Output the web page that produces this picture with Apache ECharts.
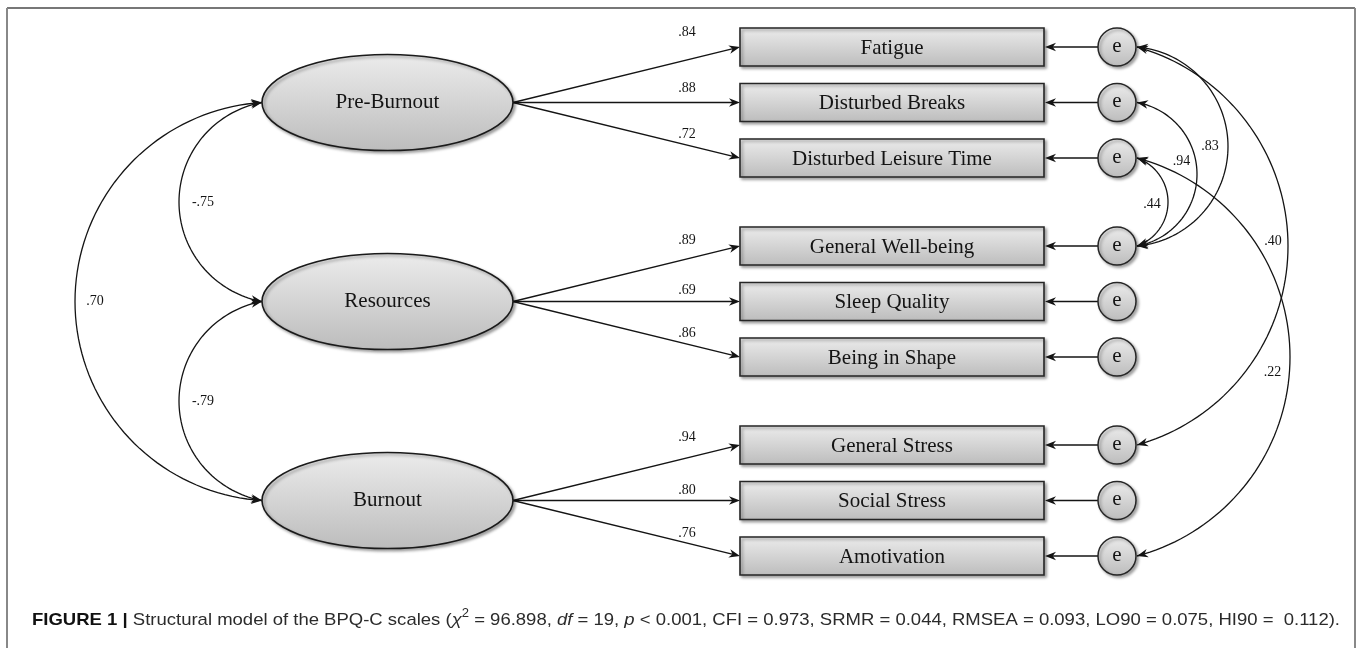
<!DOCTYPE html>
<html>
<head>
<meta charset="utf-8">
<title>BPQ-C structural model</title>
<script src="https://cdn.jsdelivr.net/npm/echarts@6/dist/echarts.min.js"></script>
<style>
  html, body { margin: 0; padding: 0; background: #fff; }
  #chart { width: 1358px; height: 648px; }
</style>
</head>
<body>
<div id="chart"></div>
<script>
// model content
const factors = ['Pre-Burnout', 'Resources', 'Burnout']
const indicators = ['Fatigue', 'Disturbed Breaks', 'Disturbed Leisure Time', 'General Well-being', 'Sleep Quality', 'Being in Shape', 'General Stress', 'Social Stress', 'Amotivation']
const indicatorFactor = [0, 0, 0, 1, 1, 1, 2, 2, 2]
const loadings = [0.84, 0.88, 0.72, 0.89, 0.69, 0.86, 0.94, 0.80, 0.76]
// [from factor, to factor, r]
const factorCorr = [[0, 1, -0.75], [1, 2, -0.79], [0, 2, 0.70]]
// [from indicator, to indicator, r] between error terms
const errorCorr = [[0, 3, 0.83], [1, 3, 0.94], [2, 3, 0.44], [0, 6, 0.40], [2, 8, 0.22]]

// layout (drawing units = axis units)
const ROW0 = 47, ROW_STEP = 55.5, GROUP_STEP = 199
const ELL_X = 387.5, ELL_RX = 125.5, ELL_RY = 48
const BOX_X0 = 740, BOX_X1 = 1044, BOX_H = 38
const ERR_X = 1117, ERR_R = 19
const factorBend = [-83, -83, -187]
const errorBend = [91, 60, 31, 151, 153]
const factorLabelAt = [[0.5, 24], [0.5, 24], [0.5, 20]]
const errorLabelAt = [[0.5, 18], [0.42, 14], [0.53, 16], [0.49, 15], [0.53, 17]]
// how far above its row each loading label sits
const loadLabelAbove = [15, 14.5, 24, 6, 11.5, 24, 8, 10.5, 23]
const LOAD_LABEL_BACK = 53

const INK = '#141414'
const SERIF = '"Liberation Serif", "DejaVu Serif", serif'
const NODE_FONT = '21px ' + SERIF
const COEF_FONT = '14px ' + SERIF

const rowY = (i) => ROW0 + Math.floor(i / 3) * GROUP_STEP + (i % 3) * ROW_STEP
const factorY = (g) => rowY(g * 3 + 1)
const fmt = (v) => (v < 0 ? '-' : '') + Math.abs(v).toFixed(2).slice(1)

const greyFill = () =>
  new echarts.graphic.LinearGradient(0, 0, 0, 1, [
    { offset: 0, color: '#ececec' },
    { offset: 1, color: '#bcbcbc' }
  ])
const nodeShadow = { shadowBlur: 3, shadowOffsetX: 2, shadowOffsetY: 2, shadowColor: 'rgba(0,0,0,0.35)' }

function arrowHead(tip, u) {
  const L = 11, W = 4.3
  const n = [-u[1], u[0]]
  const bx = tip[0] - u[0] * L, by = tip[1] - u[1] * L
  const mx = tip[0] - u[0] * L * 0.7, my = tip[1] - u[1] * L * 0.7
  return {
    type: 'polygon',
    shape: { points: [[tip[0], tip[1]], [bx + n[0] * W, by + n[1] * W], [mx, my], [bx - n[0] * W, by - n[1] * W]] },
    style: { fill: INK }
  }
}

const normAng = (a) => {
  while (a > Math.PI) a -= 2 * Math.PI
  while (a <= -Math.PI) a += 2 * Math.PI
  return a
}

// circular arc through p0, p1 with signed sagitta (pixels)
function arcGeom(p0, p1, bend) {
  const dx = p1[0] - p0[0], dy = p1[1] - p0[1]
  const L = Math.hypot(dx, dy)
  const u = [dx / L, dy / L]
  const nrm = [u[1], -u[0]]
  const s = Math.abs(bend), sg = Math.sign(bend)
  const R = (L * L / 4 + s * s) / (2 * s)
  const M = [(p0[0] + p1[0]) / 2, (p0[1] + p1[1]) / 2]
  const A = [M[0] + nrm[0] * bend, M[1] + nrm[1] * bend]
  const C = [M[0] + nrm[0] * sg * (s - R), M[1] + nrm[1] * sg * (s - R)]
  const a0 = Math.atan2(p0[1] - C[1], p0[0] - C[0])
  const aA = Math.atan2(A[1] - C[1], A[0] - C[0])
  const a1 = Math.atan2(p1[1] - C[1], p1[0] - C[0])
  const total = normAng(aA - a0) + normAng(a1 - aA)
  const at = (t) => {
    const a = a0 + total * t
    return [C[0] + R * Math.cos(a), C[1] + R * Math.sin(a)]
  }
  const tangent = (t) => {
    const a = a0 + total * t, k = Math.sign(total)
    return [-Math.sin(a) * k, Math.cos(a) * k]
  }
  return { C, R, at, tangent }
}

function renderCorr(bends, labelAt) {
  return function (params, api) {
    const i = params.dataIndex
    const p0 = api.coord([api.value(0), api.value(1)])
    const p1 = api.coord([api.value(2), api.value(3)])
    const bend = api.size([bends[i], 0])[0] * Math.sign(bends[i])
    const g = arcGeom(p0, p1, bend)
    const pts = []
    for (let k = 0; k <= 80; k++) pts.push(g.at(k / 80))
    const t0 = g.tangent(0), t1 = g.tangent(1)
    const lp = g.at(labelAt[i][0])
    const toC = [g.C[0] - lp[0], g.C[1] - lp[1]]
    const d = Math.hypot(toC[0], toC[1])
    const lx = lp[0] + toC[0] / d * labelAt[i][1]
    const ly = lp[1] + toC[1] / d * labelAt[i][1]
    return {
      type: 'group',
      children: [
        { type: 'polyline', shape: { points: pts }, style: { stroke: INK, lineWidth: 1.3, fill: null } },
        arrowHead(p0, [-t0[0], -t0[1]]),
        arrowHead(p1, t1),
        {
          type: 'text', x: lx, y: ly,
          style: { text: fmt(api.value(4)), font: COEF_FONT, fill: INK, align: 'center', verticalAlign: 'middle' }
        }
      ]
    }
  }
}

function renderLoading(params, api) {
  const i = params.dataIndex
  const p0 = api.coord([api.value(0), api.value(1)])
  const p1 = api.coord([api.value(2), api.value(3)])
  const dx = p1[0] - p0[0], dy = p1[1] - p0[1], len = Math.hypot(dx, dy)
  const u = [dx / len, dy / len]
  const lab = api.coord([api.value(2) - LOAD_LABEL_BACK, api.value(3) - loadLabelAbove[i]])
  return {
    type: 'group',
    children: [
      { type: 'line', shape: { x1: p0[0], y1: p0[1], x2: p1[0] - u[0] * 6, y2: p1[1] - u[1] * 6 }, style: { stroke: INK, lineWidth: 1.3 } },
      arrowHead(p1, u),
      {
        type: 'text', x: lab[0], y: lab[1],
        style: { text: fmt(api.value(4)), font: COEF_FONT, fill: INK, align: 'center', verticalAlign: 'middle' }
      }
    ]
  }
}

function renderIndicator(params, api) {
  const i = params.dataIndex
  const tl = api.coord([BOX_X0, api.value(1) - BOX_H / 2])
  const br = api.coord([BOX_X1, api.value(1) + BOX_H / 2])
  const e = api.coord([api.value(0), api.value(1)])
  const r = api.size([ERR_R, 0])[0]
  return {
    type: 'group',
    children: [
      {
        type: 'rect',
        shape: { x: tl[0], y: tl[1], width: br[0] - tl[0], height: br[1] - tl[1] },
        style: Object.assign({ fill: greyFill(), stroke: '#262626', lineWidth: 1.6 }, nodeShadow)
      },
      {
        type: 'text', x: (tl[0] + br[0]) / 2, y: e[1] + 1,
        style: { text: indicators[i], font: NODE_FONT, fill: INK, align: 'center', verticalAlign: 'middle' }
      },
      { type: 'line', shape: { x1: e[0] - r, y1: e[1], x2: br[0] + 6, y2: e[1] }, style: { stroke: INK, lineWidth: 1.3 } },
      arrowHead([br[0] + 1, e[1]], [-1, 0]),
      {
        type: 'circle',
        shape: { cx: e[0], cy: e[1], r: r },
        style: Object.assign({ fill: greyFill(), stroke: '#262626', lineWidth: 1.5 }, nodeShadow)
      },
      {
        type: 'text', x: e[0], y: e[1] - 1,
        style: { text: 'e', font: NODE_FONT, fill: INK, align: 'center', verticalAlign: 'middle' }
      }
    ]
  }
}

function renderFactor(params, api) {
  const i = params.dataIndex
  const c = api.coord([api.value(0), api.value(1)])
  const s = api.size([ELL_RX, ELL_RY])
  return {
    type: 'group',
    children: [
      {
        type: 'ellipse',
        shape: { cx: c[0], cy: c[1], rx: s[0], ry: s[1] },
        style: Object.assign({ fill: greyFill(), stroke: '#1a1a1a', lineWidth: 1.6 }, nodeShadow)
      },
      {
        type: 'text', x: c[0], y: c[1],
        style: { text: factors[i], font: NODE_FONT, fill: INK, align: 'center', verticalAlign: 'middle' }
      }
    ]
  }
}

// caption, measured so it spans the figure width
const CAP_X0 = 32, CAP_X1 = 1340, CAP_Y = 620
const capFamily = '"Liberation Sans", Arial, sans-serif'
const capParts = [
  ['b', 'FIGURE 1 | '],
  ['r', 'Structural model of the BPQ-C scales ('],
  ['i', 'χ'],
  ['s', '2'],
  ['r', ' = 96.898, '],
  ['i', 'df'],
  ['r', ' = 19, '],
  ['i', 'p'],
  ['r', ' < 0.001, CFI = 0.973, SRMR = 0.044, RMSEA = 0.093, LO90 = 0.075, HI90 =  0.112).']
]
const capRich = {
  b: { fontFamily: capFamily, fontSize: 17, fontWeight: 'bold', fill: '#111', lineHeight: 24 },
  r: { fontFamily: capFamily, fontSize: 17, fill: '#2b2b2b', lineHeight: 24 },
  i: { fontFamily: capFamily, fontSize: 17, fontStyle: 'italic', fill: '#2b2b2b', lineHeight: 24 },
  s: { fontFamily: capFamily, fontSize: 12, fill: '#2b2b2b', verticalAlign: 'top', lineHeight: 12 }
}
const measureCtx = document.createElement('canvas').getContext('2d')
let capWidth = 0
capParts.forEach(([k, t]) => {
  const st = capRich[k]
  measureCtx.font = (st.fontStyle || '') + ' ' + (st.fontWeight || '') + ' ' + st.fontSize + 'px ' + capFamily
  capWidth += measureCtx.measureText(t).width
})
const capScale = (CAP_X1 - CAP_X0) / capWidth

const chart = echarts.init(document.getElementById('chart'), null, { renderer: 'canvas' })
chart.setOption({
  animation: false,
  backgroundColor: '#fff',
  grid: { left: 0, right: 0, top: 0, bottom: 0 },
  xAxis: { type: 'value', min: 0, max: 1358, show: false },
  yAxis: { type: 'value', min: 0, max: 648, inverse: true, show: false },
  graphic: [
    { type: 'line', shape: { x1: 7, y1: 8, x2: 1355, y2: 8 }, style: { stroke: '#4a4a4a', lineWidth: 1.5 } },
    { type: 'line', shape: { x1: 7, y1: 8, x2: 7, y2: 648 }, style: { stroke: '#888', lineWidth: 2 } },
    { type: 'line', shape: { x1: 1355, y1: 8, x2: 1355, y2: 648 }, style: { stroke: '#888', lineWidth: 2 } },
    {
      type: 'text', x: CAP_X0, y: CAP_Y, scaleX: capScale,
      style: {
        text: capParts.map(([k, t]) => '{' + k + '|' + t + '}').join(''),
        rich: capRich,
        verticalAlign: 'middle',
        align: 'left'
      }
    }
  ],
  series: [
    {
      type: 'custom', name: 'loadings', z: 1,
      coordinateSystem: 'cartesian2d',
      renderItem: renderLoading,
      data: indicators.map((_, i) => [ELL_X + ELL_RX, factorY(indicatorFactor[i]), BOX_X0, rowY(i), loadings[i]])
    },
    {
      type: 'custom', name: 'factor correlations', z: 1,
      coordinateSystem: 'cartesian2d',
      renderItem: renderCorr(factorBend, factorLabelAt),
      data: factorCorr.map(([a, b, r]) => [ELL_X - ELL_RX, factorY(a), ELL_X - ELL_RX, factorY(b), r])
    },
    {
      type: 'custom', name: 'error covariances', z: 1,
      coordinateSystem: 'cartesian2d',
      renderItem: renderCorr(errorBend, errorLabelAt),
      data: errorCorr.map(([a, b, r]) => [ERR_X + ERR_R + 1, rowY(a), ERR_X + ERR_R + 1, rowY(b), r])
    },
    {
      type: 'custom', name: 'indicators', z: 2,
      coordinateSystem: 'cartesian2d',
      renderItem: renderIndicator,
      data: indicators.map((_, i) => [ERR_X, rowY(i)])
    },
    {
      type: 'custom', name: 'factors', z: 2,
      coordinateSystem: 'cartesian2d',
      renderItem: renderFactor,
      data: factors.map((_, g) => [ELL_X, factorY(g)])
    }
  ]
})
</script>
</body>
</html>
